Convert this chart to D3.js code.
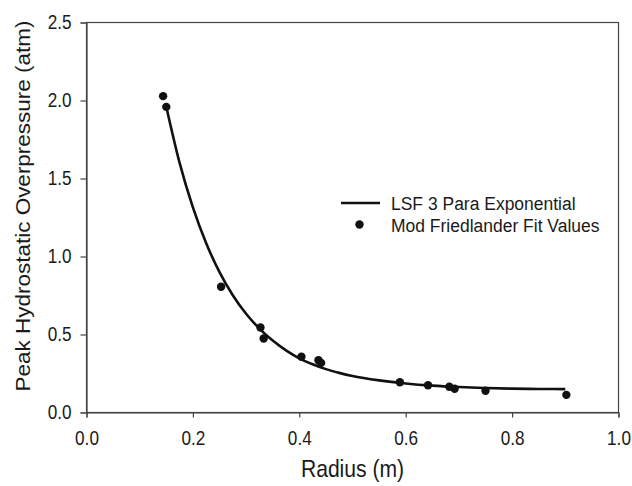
<!DOCTYPE html>
<html>
<head>
<meta charset="utf-8">
<script src="https://cdn.jsdelivr.net/npm/d3@7"></script>
<style>
  body { margin: 0; background: #fff; }
  svg text { font-family: "Liberation Sans", Arial, sans-serif; fill: #1a1a1a; }
</style>
</head>
<body>
<svg id="chart" width="632" height="486"></svg>
<script>
// measured points (Mod Friedlander fit values)
var radius = [0.144, 0.150, 0.253, 0.327, 0.333, 0.404, 0.436, 0.441, 0.589, 0.642, 0.682, 0.692, 0.750, 0.902];
var pressure = [2.028, 1.959, 0.806, 0.545, 0.474, 0.357, 0.335, 0.318, 0.194, 0.175, 0.165, 0.152, 0.139, 0.113];

// LSF 3 para exponential curve
var fitX = [0.150, 0.175, 0.200, 0.225, 0.250, 0.275, 0.300, 0.325, 0.350, 0.375, 0.400, 0.425, 0.450, 0.475, 0.500, 0.550, 0.600, 0.650, 0.700, 0.750, 0.800, 0.850, 0.900];
var fitY = [1.960, 1.600, 1.315, 1.085, 0.900, 0.752, 0.633, 0.538, 0.461, 0.398, 0.347, 0.309, 0.278, 0.254, 0.234, 0.206, 0.186, 0.172, 0.163, 0.157, 0.153, 0.151, 0.150];

var xTicks = [0, 0.2, 0.4, 0.6, 0.8, 1.0];
var yTicks = [0, 0.5, 1.0, 1.5, 2.0, 2.5];
var legendLabels = ["LSF 3 Para Exponential", "Mod Friedlander Fit Values"];

var squeeze = 0.88; // the original text is narrow and tall

var svg = d3.select("#chart"),
    margin = {top: 22.5, left: 86.5, right: 13.5, bottom: 73.5},
    width = 632 - margin.left - margin.right,
    height = 486 - margin.top - margin.bottom,
    g = svg.append("g").attr("transform", "translate(" + margin.left + "," + margin.top + ")");

var x = d3.scaleLinear().domain([0, 1]).range([0, width]);
var y = d3.scaleLinear().domain([0, 2.5]).range([height, 0]);

// frame
g.append("rect")
    .attr("width", width)
    .attr("height", height)
    .attr("fill", "none")
    .attr("stroke", "#444")
    .attr("stroke-width", 1.2);

var xAxis = g.append("g")
    .attr("transform", "translate(0," + height + ")")
    .call(d3.axisBottom(x).tickValues(xTicks).tickSize(5).tickPadding(14).tickFormat(d3.format(".1f")));

var yAxis = g.append("g")
    .call(d3.axisLeft(y).tickValues(yTicks).tickSize(6).tickPadding(9).tickFormat(d3.format(".1f")));

[xAxis, yAxis].forEach(function (a) {
    a.select(".domain").attr("stroke", "#444").attr("stroke-width", 1.2);
    a.selectAll(".tick line").attr("stroke", "#444").attr("stroke-width", 1.2);
    a.selectAll(".tick text")
        .attr("font-size", 19.5)
        .attr("font-family", "Liberation Sans")
        .attr("fill", "#1a1a1a")
        .attr("x", function () { return +d3.select(this).attr("x") / squeeze; })
        .attr("transform", "scale(" + squeeze + ",1)");
});

var line = d3.line()
    .x(function (d) { return x(d[0]); })
    .y(function (d) { return y(d[1]); })
    .curve(d3.curveMonotoneX);

g.append("path")
    .datum(d3.zip(fitX, fitY))
    .attr("fill", "none")
    .attr("stroke", "#111")
    .attr("stroke-width", 2.6)
    .attr("d", line);

g.selectAll(".pt")
    .data(d3.zip(radius, pressure))
    .enter()
    .append("circle")
    .attr("class", "pt")
    .attr("cx", function (d) { return x(d[0]); })
    .attr("cy", function (d) { return y(d[1]); })
    .attr("r", 4.2)
    .attr("fill", "#111");

// axis titles
svg.append("text")
    .attr("transform", "translate(" + (margin.left + width / 2) + ",477) scale(" + squeeze + ",1)")
    .attr("text-anchor", "middle")
    .attr("font-size", 24)
    .text("Radius (m)");

svg.append("text")
    .attr("transform", "translate(30,206) rotate(-90) scale(1," + 0.9 + ")")
    .attr("text-anchor", "middle")
    .attr("font-size", 22.5)
    .text("Peak Hydrostatic Overpressure (atm)");

// legend
var lg = svg.append("g").attr("transform", "translate(341,203)");
lg.append("line")
    .attr("x1", 0).attr("x2", 39).attr("y1", 0).attr("y2", 0)
    .attr("stroke", "#111").attr("stroke-width", 2.6);
lg.append("circle").attr("cx", 18.5).attr("cy", 21.5).attr("r", 4.2).attr("fill", "#111");
lg.selectAll(".lt")
    .data(legendLabels)
    .enter()
    .append("text")
    .attr("transform", function (d, i) { return "translate(50," + (7 + i * 22) + ") scale(0.92,1)"; })
    .attr("font-size", 19)
    .text(function (d) { return d; });
</script>
</body>
</html>
